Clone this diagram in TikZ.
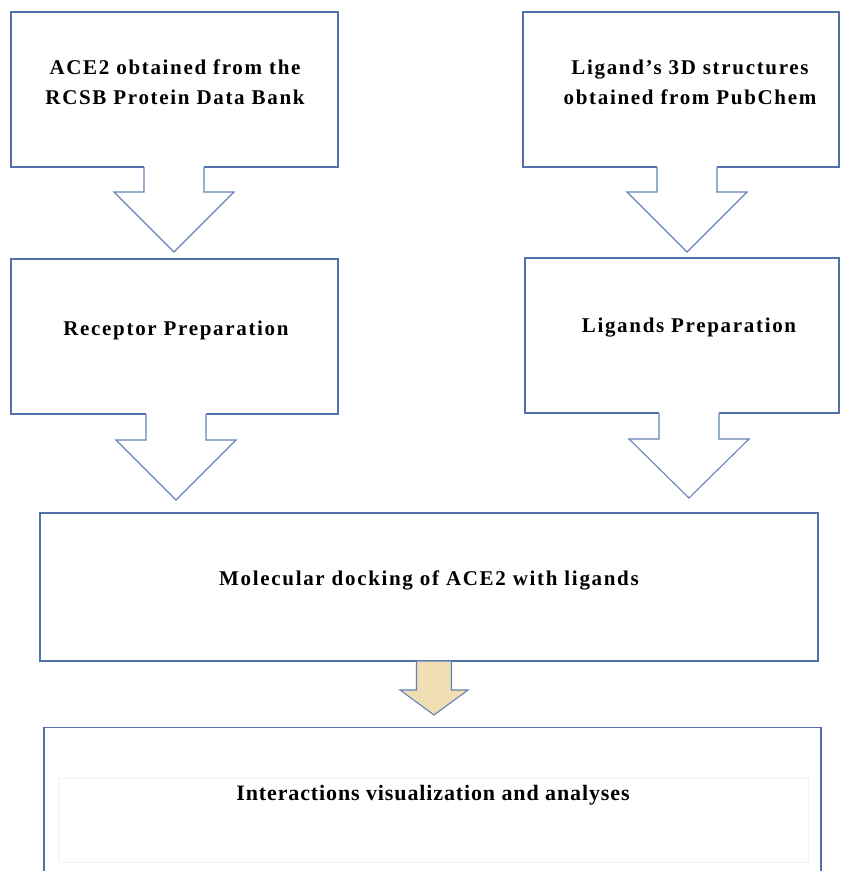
\documentclass[tikz,border=0pt]{standalone}
\usepackage{fontspec}
\usetikzlibrary{calc}
\setmainfont{Liberation Serif}
\newfontfamily\boxfont[LetterSpace=8]{Liberation Serif}
\newfontfamily\lastfont[LetterSpace=4]{Liberation Serif}
\definecolor{boxblue}{RGB}{82,112,170}
\definecolor{arrowblue}{RGB}{100,130,185}
\definecolor{tanfill}{RGB}{240,222,180}
\definecolor{faint}{RGB}{243,243,243}
% #1 fill, #2 x centre, #3 y top, #4 y shoulder, #5 y tip, #6 half stem, #7 half head
\newcommand{\myblockarr}[7]{%
  \fill[#1] (#2-#6,#3-3) -- (#2-#6,#4) -- (#2-#7,#4) -- (#2,#5) -- (#2+#7,#4) -- (#2+#6,#4) -- (#2+#6,#3-3) -- cycle;
  \draw[blockarrow] (#2-#6,#3) -- (#2-#6,#4) -- (#2-#7,#4) -- (#2,#5) -- (#2+#7,#4) -- (#2+#6,#4) -- (#2+#6,#3);}
\begin{document}
\begin{tikzpicture}[x=1pt,y=-1pt,
  stepbox/.style={draw=boxblue,line width=1.3pt,fill=white,rectangle,inner sep=0pt},
  lbl/.style={align=center,inner sep=0pt,font=\boxfont\bfseries\fontsize{21}{30}\selectfont},
  blockarrow/.style={draw=arrowblue,line width=1.1pt,line join=miter}]
\useasboundingbox (0,0) rectangle (841,871);
% boxes
\node[stepbox,minimum width=327pt,minimum height=155pt] (b1) at (174.5,89.5) {};
\node[stepbox,minimum width=327pt,minimum height=155pt] (b2) at (174.5,336.5) {};
\node[stepbox,minimum width=316pt,minimum height=155pt] (b3) at (681,89.5) {};
\node[stepbox,minimum width=314pt,minimum height=155pt] (b4) at (682,335.5) {};
\node[stepbox,minimum width=778pt,minimum height=148pt] (b5) at (429,587) {};
\begin{scope}
\clip (0,0) rectangle (841,871);
\node[stepbox,minimum width=777pt,minimum height=180pt,anchor=north] (b6) at (432.5,727) {};
\end{scope}
\draw[faint,line width=0.8pt] (58,778) rectangle (808,862);
% block arrows
\myblockarr{white}{174}{167}{192}{252}{30}{60}
\myblockarr{white}{176}{414}{440}{500}{30}{60}
\myblockarr{white}{687}{167}{192}{252}{30}{60}
\myblockarr{white}{689}{413}{439}{498}{30}{60}
\filldraw[fill=tanfill,blockarrow] (434-17.5,661) -- (434-17.5,690) -- (434-34,690) -- (434,715) -- (434+34,690) -- (434+17.5,690) -- (434+17.5,661) -- cycle;
% texts
\node[lbl] (t1) at (175,82) {ACE2 obtained from the\\RCSB Protein Data Bank};
\node[lbl] (t2) at (176,330) {Receptor Preparation};
\node[lbl] (t3) at (690,82) {Ligand’s 3D structures\\obtained from PubChem};
\node[lbl] (t4) at (689,328) {Ligands Preparation};
\node[lbl] (t5) at (429,580) {Molecular docking of ACE2 with ligands};
\node[align=center,inner sep=0pt,font=\lastfont\bfseries\fontsize{22}{26}\selectfont] (t6) at (433,795) {Interactions visualization and analyses};
\end{tikzpicture}
\end{document}
